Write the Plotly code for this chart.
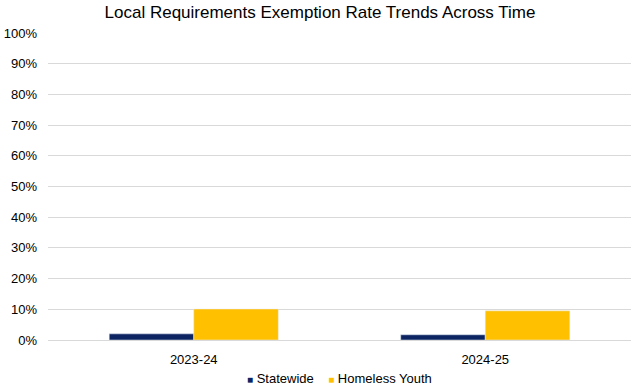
import plotly.graph_objects as go

categories = ["2023-24", "2024-25"]
statewide = [0.020, 0.017]
homeless_youth = [0.101, 0.095]
tick_vals = [i / 10 for i in range(11)]
tick_text = [f"{i*10}%" for i in range(11)]
series_names = ["Statewide", "Homeless Youth"]
series_colors = ["#0C2461", "#FFC000"]

fig = go.Figure()
fig.add_trace(go.Bar(x=categories, y=statewide, name=series_names[0], marker_color=series_colors[0]))
fig.add_trace(go.Bar(x=categories, y=homeless_youth, name=series_names[1], marker_color=series_colors[1]))

legend_text = "&nbsp;&nbsp;&nbsp;&nbsp;".join(
    f"<span style='color:{c};font-size:10px'>■</span> {n}" for n, c in zip(series_names, series_colors)
)
fig.add_annotation(text=legend_text, xref="paper", yref="paper", x=0.5, xanchor="center",
                   y=-0.125, yanchor="middle", showarrow=False, font=dict(size=13, color="#000000"))

fig.update_layout(
    width=640, height=389,
    margin=dict(l=48, r=9, t=33, b=49),
    paper_bgcolor="white", plot_bgcolor="white",
    font=dict(family="Liberation Sans, Arial", size=13, color="#000000"),
    title=dict(text="Local Requirements Exemption Rate Trends Across Time", x=0.5, xanchor="center",
               y=0.97, yanchor="middle", font=dict(size=17, color="#000000")),
    barmode="group", bargap=0.42, bargroupgap=0,
    showlegend=False,
)
fig.update_yaxes(range=[0, 1], tickvals=tick_vals, ticktext=tick_text, showgrid=True,
                 gridcolor="#D9D9D9", gridwidth=1, zeroline=False, showline=False, ticks="",
                 ticklen=0, automargin=False, ticklabelstandoff=10,
                 tickfont=dict(size=13, color="#000000"))
fig.update_xaxes(showline=True, linecolor="#D9D9D9", linewidth=1, ticks="", automargin=False,
                 ticklabelstandoff=7, tickfont=dict(size=13, color="#000000"))

fig.write_html("out.html", config={"displayModeBar": False},
               post_script="document.body.style.margin='0';")
